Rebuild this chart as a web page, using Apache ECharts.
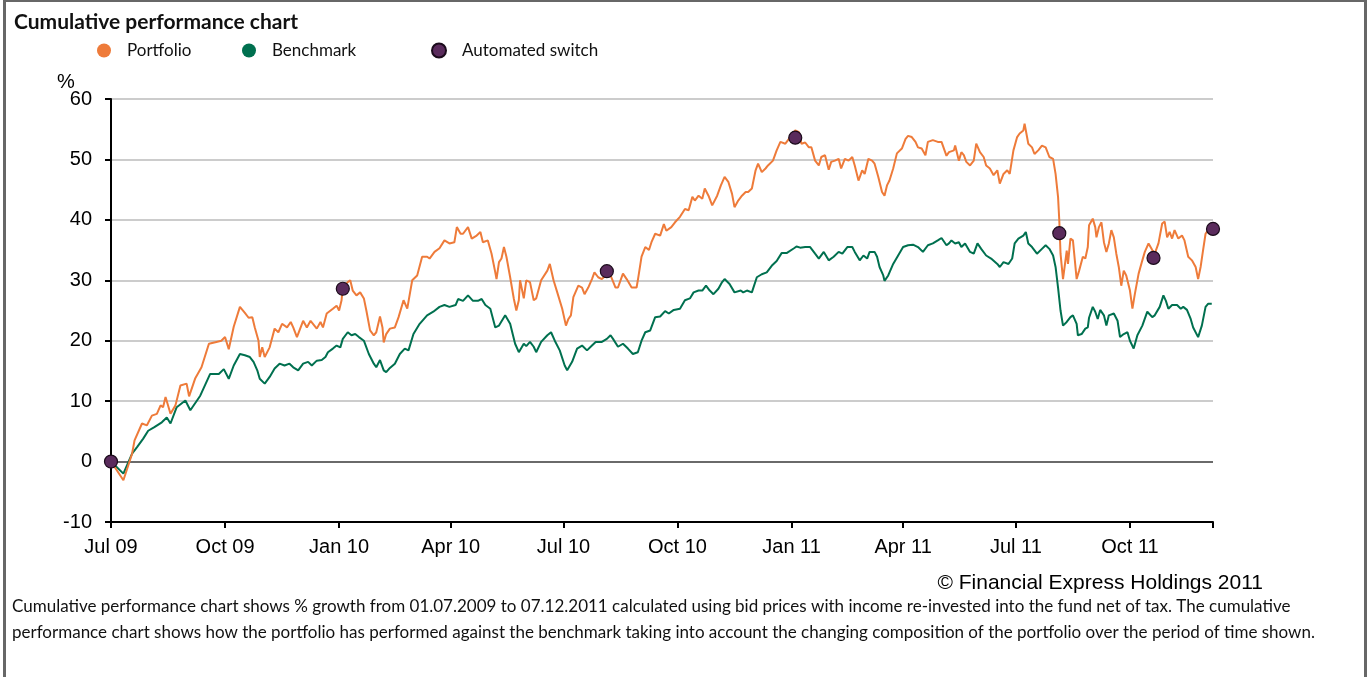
<!DOCTYPE html>
<html><head><meta charset="utf-8">
<script src="https://cdn.jsdelivr.net/npm/echarts@6/dist/echarts.min.js"></script>
<style>
html,body{margin:0;padding:0;background:#fff;}
#chart{position:absolute;left:0;top:0;width:1369px;height:677px;}
#frame{position:absolute;left:3px;top:0;width:1364px;height:677px;border-left:3px solid #676767;border-right:3px solid #676767;border-top:2px solid #676767;box-sizing:border-box;pointer-events:none;}
</style></head><body>
<div id="chart"></div><div id="frame"></div>
<script>
// days since 01.07.2009
const tickDays = [0, 92, 184, 274, 365, 457, 549, 639, 730, 822, 889];
const tickLabels = ['Jul 09','Oct 09','Jan 10','Apr 10','Jul 10','Oct 10','Jan 11','Apr 11','Jul 11','Oct 11',''];

const pfDays = [0,10,17,19,25,29,33,37,40,42,44,48,52,56,61,63,68,73,79,85,89,92,95,99,104,108,111,114,116,119,120,122,124,128,132,135,138,142,145,147,150,155,158,161,166,169,171,174,179,182,184,186,187,191,193,195,198,201,204,206,209,212,214,217,219,220,222,225,229,232,236,239,243,247,251,255,257,261,265,269,273,277,279,282,284,288,291,295,298,300,304,307,310,311,313,315,317,319,322,325,327,329,330,333,335,338,341,343,347,352,354,357,360,364,367,369,371,373,377,380,382,385,388,390,393,396,399,403,407,409,413,416,420,424,425,428,431,434,436,439,443,446,448,452,455,459,463,466,469,471,474,477,479,482,485,489,492,495,498,501,503,506,509,512,514,517,520,522,525,528,530,534,537,540,544,548,552,555,557,560,563,565,568,571,573,576,579,581,584,587,589,592,595,598,600,603,606,608,611,614,616,619,622,624,626,628,631,634,638,641,643,646,649,651,654,657,659,663,667,670,674,676,680,681,684,686,688,690,693,696,698,701,704,706,709,712,715,717,720,723,725,728,731,733,736,737,740,743,745,748,751,754,757,760,762,764,765,766,768,771,772,774,776,779,781,784,786,788,789,792,794,795,797,799,801,803,805,807,809,811,813,815,817,819,822,824,826,829,832,834,837,840,842,845,848,850,852,854,856,858,861,864,866,869,872,875,877,879,881,883,885,888,889];
const pfValues = [0,-3.1,1.3,3.5,6.3,6.0,7.6,7.9,9.3,9.0,10.7,7.9,9.3,12.6,12.9,10.8,13.8,15.6,19.5,19.8,20.0,20.6,18.6,22.3,25.6,24.6,23.8,23.9,22.2,20.0,17.3,18.9,17.3,18.9,22.0,21.4,22.8,22.2,23.1,22.2,20.6,23.3,22.2,23.3,22.0,23.1,22.2,24.5,25.3,25.8,25.0,26.7,28.9,29.7,30.0,28.3,27.5,28.0,27.0,25.0,21.7,20.9,21.4,24.0,22.2,19.7,21.1,22.0,22.2,23.9,26.7,25.3,30.0,30.8,33.9,33.9,33.6,34.7,35.3,36.6,36.1,36.3,38.8,37.7,37.7,38.8,36.9,37.4,38.0,36.3,36.6,34.4,31.3,30.2,33.0,33.6,35.5,33.9,30.5,26.9,25.0,26.7,30.0,27.0,30.0,29.7,26.7,27.0,30.0,31.6,32.7,30.0,28.0,25.3,22.5,23.6,24.2,27.2,29.1,28.8,27.7,28.8,30.2,31.3,30.5,30.2,30.8,30.8,28.8,28.8,31.1,30.2,28.8,28.8,30.0,33.9,35.5,35.0,36.3,37.7,37.4,39.3,38.2,38.8,39.6,40.5,41.8,41.6,43.8,43.2,44.0,43.5,45.2,44.0,42.4,44.0,45.7,47.1,46.3,44.3,42.1,43.2,44.0,44.6,44.6,45.2,48.2,49.3,47.9,48.5,49.0,49.8,51.5,52.9,52.6,53.7,54.8,54.5,52.6,52.8,52.0,52.0,49.8,49.0,50.4,50.7,48.3,49.6,49.8,50.1,48.5,50.1,49.8,50.4,49.0,46.5,48.2,47.6,50.1,49.8,49.3,47.1,44.6,44.0,45.7,46.5,48.5,51.0,51.8,53.4,53.9,53.7,52.9,52.0,51.8,50.7,52.9,53.2,52.9,52.9,50.6,51.2,51.5,52.3,49.8,51.2,50.7,49.6,49.0,49.8,52.6,51.2,50.4,49.0,48.5,47.4,48.2,46.0,47.6,48.2,47.6,51.5,53.7,54.3,54.8,55.9,52.6,52.0,50.9,51.5,52.3,52.0,50.4,50.1,47.6,43.8,39.9,34.4,30.2,34.9,32.7,36.9,36.6,30.2,31.6,33.9,33.6,35.5,39.1,40.2,38.8,37.1,38.8,39.6,36.3,34.7,36.1,38.3,37.1,34.4,32.2,29.1,31.6,30.8,28.3,25.3,27.8,31.1,33.3,34.7,36.1,35.0,34.4,36.1,39.4,39.7,37.1,38.0,36.9,38.3,36.9,37.4,36.6,33.9,33.3,32.2,30.2,32.2,35.0,37.7,38.3,38.6,38.5];

const bmDays = [0,10,17,21,26,30,35,41,45,48,53,60,64,72,80,87,91,95,99,104,108,112,115,118,120,124,128,132,136,140,144,147,151,155,159,162,166,170,173,175,179,182,185,187,191,194,197,200,204,208,212,214,217,220,222,225,229,233,237,240,244,249,255,260,265,269,273,278,280,284,288,292,296,299,302,306,310,313,318,322,326,329,333,335,338,341,343,347,352,355,358,362,366,368,372,376,380,384,388,391,396,400,403,405,409,413,417,421,425,428,431,435,439,443,447,450,454,459,463,467,470,474,477,480,483,486,490,493,495,499,503,508,510,513,517,521,525,529,533,537,541,545,551,553,556,560,564,568,571,575,579,583,587,590,594,598,600,604,607,610,612,616,618,620,623,624,627,631,635,639,643,647,651,655,659,663,667,670,674,676,678,681,684,686,689,693,696,699,702,706,710,715,717,720,724,727,729,732,736,738,740,743,747,751,754,757,760,762,764,766,768,771,774,776,779,780,783,786,788,789,792,794,796,798,801,803,805,809,812,814,817,820,822,825,828,832,836,840,842,846,849,851,853,856,860,863,865,868,871,873,877,880,883,885,888];
const bmValues = [0,-2.0,1.3,2.4,3.8,5.1,5.7,6.5,7.3,6.3,9.0,10.1,8.5,10.9,14.5,14.5,15.3,13.7,15.9,17.8,17.6,17.3,16.5,15.1,13.7,12.9,14.0,15.4,16.2,15.9,16.2,15.6,15.1,16.2,16.5,15.9,16.7,16.8,17.3,18.1,18.7,19.2,18.9,20.3,21.4,20.9,21.1,20.6,20.0,17.8,16.2,15.6,16.8,15.1,14.8,15.5,16.2,17.8,18.7,18.4,21.1,22.8,24.2,24.8,25.6,25.9,25.6,25.9,26.9,26.6,27.5,26.6,26.6,26.9,25.9,25.3,22.2,22.5,24.2,22.8,19.5,18.1,19.5,19.1,19.8,19.0,18.1,19.8,20.9,21.4,20.0,18.4,15.9,15.1,16.5,18.7,19.2,18.4,19.2,19.8,19.8,20.3,20.9,20.3,19.0,19.5,18.7,17.8,18.1,20.0,21.4,21.7,23.9,24.0,24.9,24.5,25.1,25.3,26.7,27.0,28.0,28.3,28.3,29.1,28.3,27.7,28.6,29.7,30.2,29.4,28.0,28.3,28.0,28.3,28.0,30.5,31.0,31.3,32.4,33.2,34.5,34.5,35.3,35.6,35.4,35.5,35.5,34.4,33.6,34.7,33.3,33.9,34.7,34.4,35.5,35.5,34.7,33.3,34.1,33.6,34.7,34.7,33.9,32.2,30.8,29.9,30.8,32.7,34.1,35.5,35.8,35.9,35.5,34.7,35.8,36.1,36.6,37.0,35.8,36.1,36.6,36.1,36.3,35.5,36.1,34.7,34.4,36.1,35.2,34.1,33.6,32.7,32.2,33.0,32.7,33.6,36.1,36.9,37.4,38.0,36.1,35.5,34.4,35.2,35.8,35.2,34.1,32.2,28.8,25.0,22.5,23.1,23.9,24.2,22.8,20.9,21.1,22.0,22.2,23.8,25.6,24.8,23.6,25.1,24.2,22.5,24.2,24.5,23.3,20.6,21.1,21.4,20.0,18.7,20.9,22.5,24.8,23.9,24.2,25.6,27.5,26.6,25.3,25.9,25.9,25.3,25.6,25.1,23.6,22.2,20.6,22.5,25.6,26.1,26.1];

const switchDays = [0, 187, 400, 552, 765, 841, 889];
const switchValues = [0, 28.6, 31.5, 53.6, 37.8, 33.7, 38.5];

const zip = (a, b) => a.map((d, i) => [d, b[i]]);
const labelOf = {};
tickDays.forEach((d, i) => { labelOf[d] = tickLabels[i]; });

const ORANGE = '#ee7b3a', GREEN = '#00704f', PURPLE = '#5a2b5c';
const gridColors = ['#cccccc', '#6a6a6a', '#cccccc', '#cccccc', '#cccccc', '#cccccc', '#cccccc', '#cccccc'];

const chart = echarts.init(document.getElementById('chart'), null, {renderer: 'canvas'});
chart.setOption({
  animation: false,
  backgroundColor: '#fff',
  title: {
    text: 'Cumulative performance chart', left: 14, top: 12, padding: 0,
    textStyle: {fontFamily: 'Lato', fontWeight: 'bold', fontSize: 21, color: '#111'}
  },
  legend: [
    {data: ['Portfolio'], left: 97, top: 42},
    {data: ['Benchmark'], left: 242, top: 42},
    {data: ['Automated switch'], left: 431, top: 42}
  ].map(l => Object.assign(l, {
    icon: 'circle', itemWidth: 14, itemHeight: 14, selectedMode: false, padding: 0,
    itemStyle: {opacity: 1},
    textStyle: {fontFamily: 'Lato', fontSize: 17, color: '#111', padding: [0, 0, 0, 11]}
  })),
  grid: {left: 111, right: 156, top: 99, bottom: 155},
  xAxis: {
    type: 'value', min: 0, max: 889,
    axisLine: {onZero: false, lineStyle: {color: '#000', width: 2}},
    axisTick: {show: true, customValues: tickDays, length: 6, lineStyle: {color: '#000', width: 2}},
    axisLabel: {customValues: tickDays.slice(0, -1), formatter: v => labelOf[v] || '',
      fontFamily: 'Liberation Sans', fontSize: 20, color: '#000', margin: 15},
    splitLine: {show: false}
  },
  yAxis: {
    type: 'value', min: -10, max: 60, interval: 10,
    axisLine: {show: true, lineStyle: {color: '#000', width: 2}},
    axisTick: {show: true, length: 6, lineStyle: {color: '#000', width: 2}},
    axisLabel: {fontFamily: 'Liberation Sans', fontSize: 20, color: '#000', margin: 19},
    splitLine: {show: true, lineStyle: {color: gridColors, width: 2}}
  },
  series: [
    {name: 'Portfolio', type: 'line', data: zip(pfDays, pfValues), showSymbol: false, symbol: 'none',
      color: ORANGE, lineStyle: {color: ORANGE, width: 2}, z: 3},
    {name: 'Benchmark', type: 'line', data: zip(bmDays, bmValues), showSymbol: false, symbol: 'none',
      color: GREEN, lineStyle: {color: GREEN, width: 2}, z: 2},
    {name: 'Automated switch', type: 'scatter', data: zip(switchDays, switchValues), symbolSize: 13,
      color: PURPLE, itemStyle: {color: PURPLE, opacity: 1, borderColor: '#1b0b1b', borderWidth: 1.2}, z: 5}
  ],
  graphic: [
    {type: 'text', left: 57, top: 72, style: {text: '%', font: '20px "Liberation Sans"', fill: '#000'}},
    {type: 'text', right: 106, top: 573, style: {text: '\u00A9 Financial Express Holdings 2011', font: '21px "Liberation Sans"', fill: '#000'}},
    {type: 'text', left: 12, top: 598, style: {text: 'Cumulative performance chart shows % growth from 01.07.2009 to 07.12.2011 calculated using bid prices with income re-invested into the fund net of tax. The cumulative', font: '17px Lato', fill: '#111'}},
    {type: 'text', left: 12, top: 624, style: {text: 'performance chart shows how the portfolio has performed against the benchmark taking into account the changing composition of the portfolio over the period of time shown.', font: '17px Lato', fill: '#111'}}
  ]
});
</script>
</body></html>
